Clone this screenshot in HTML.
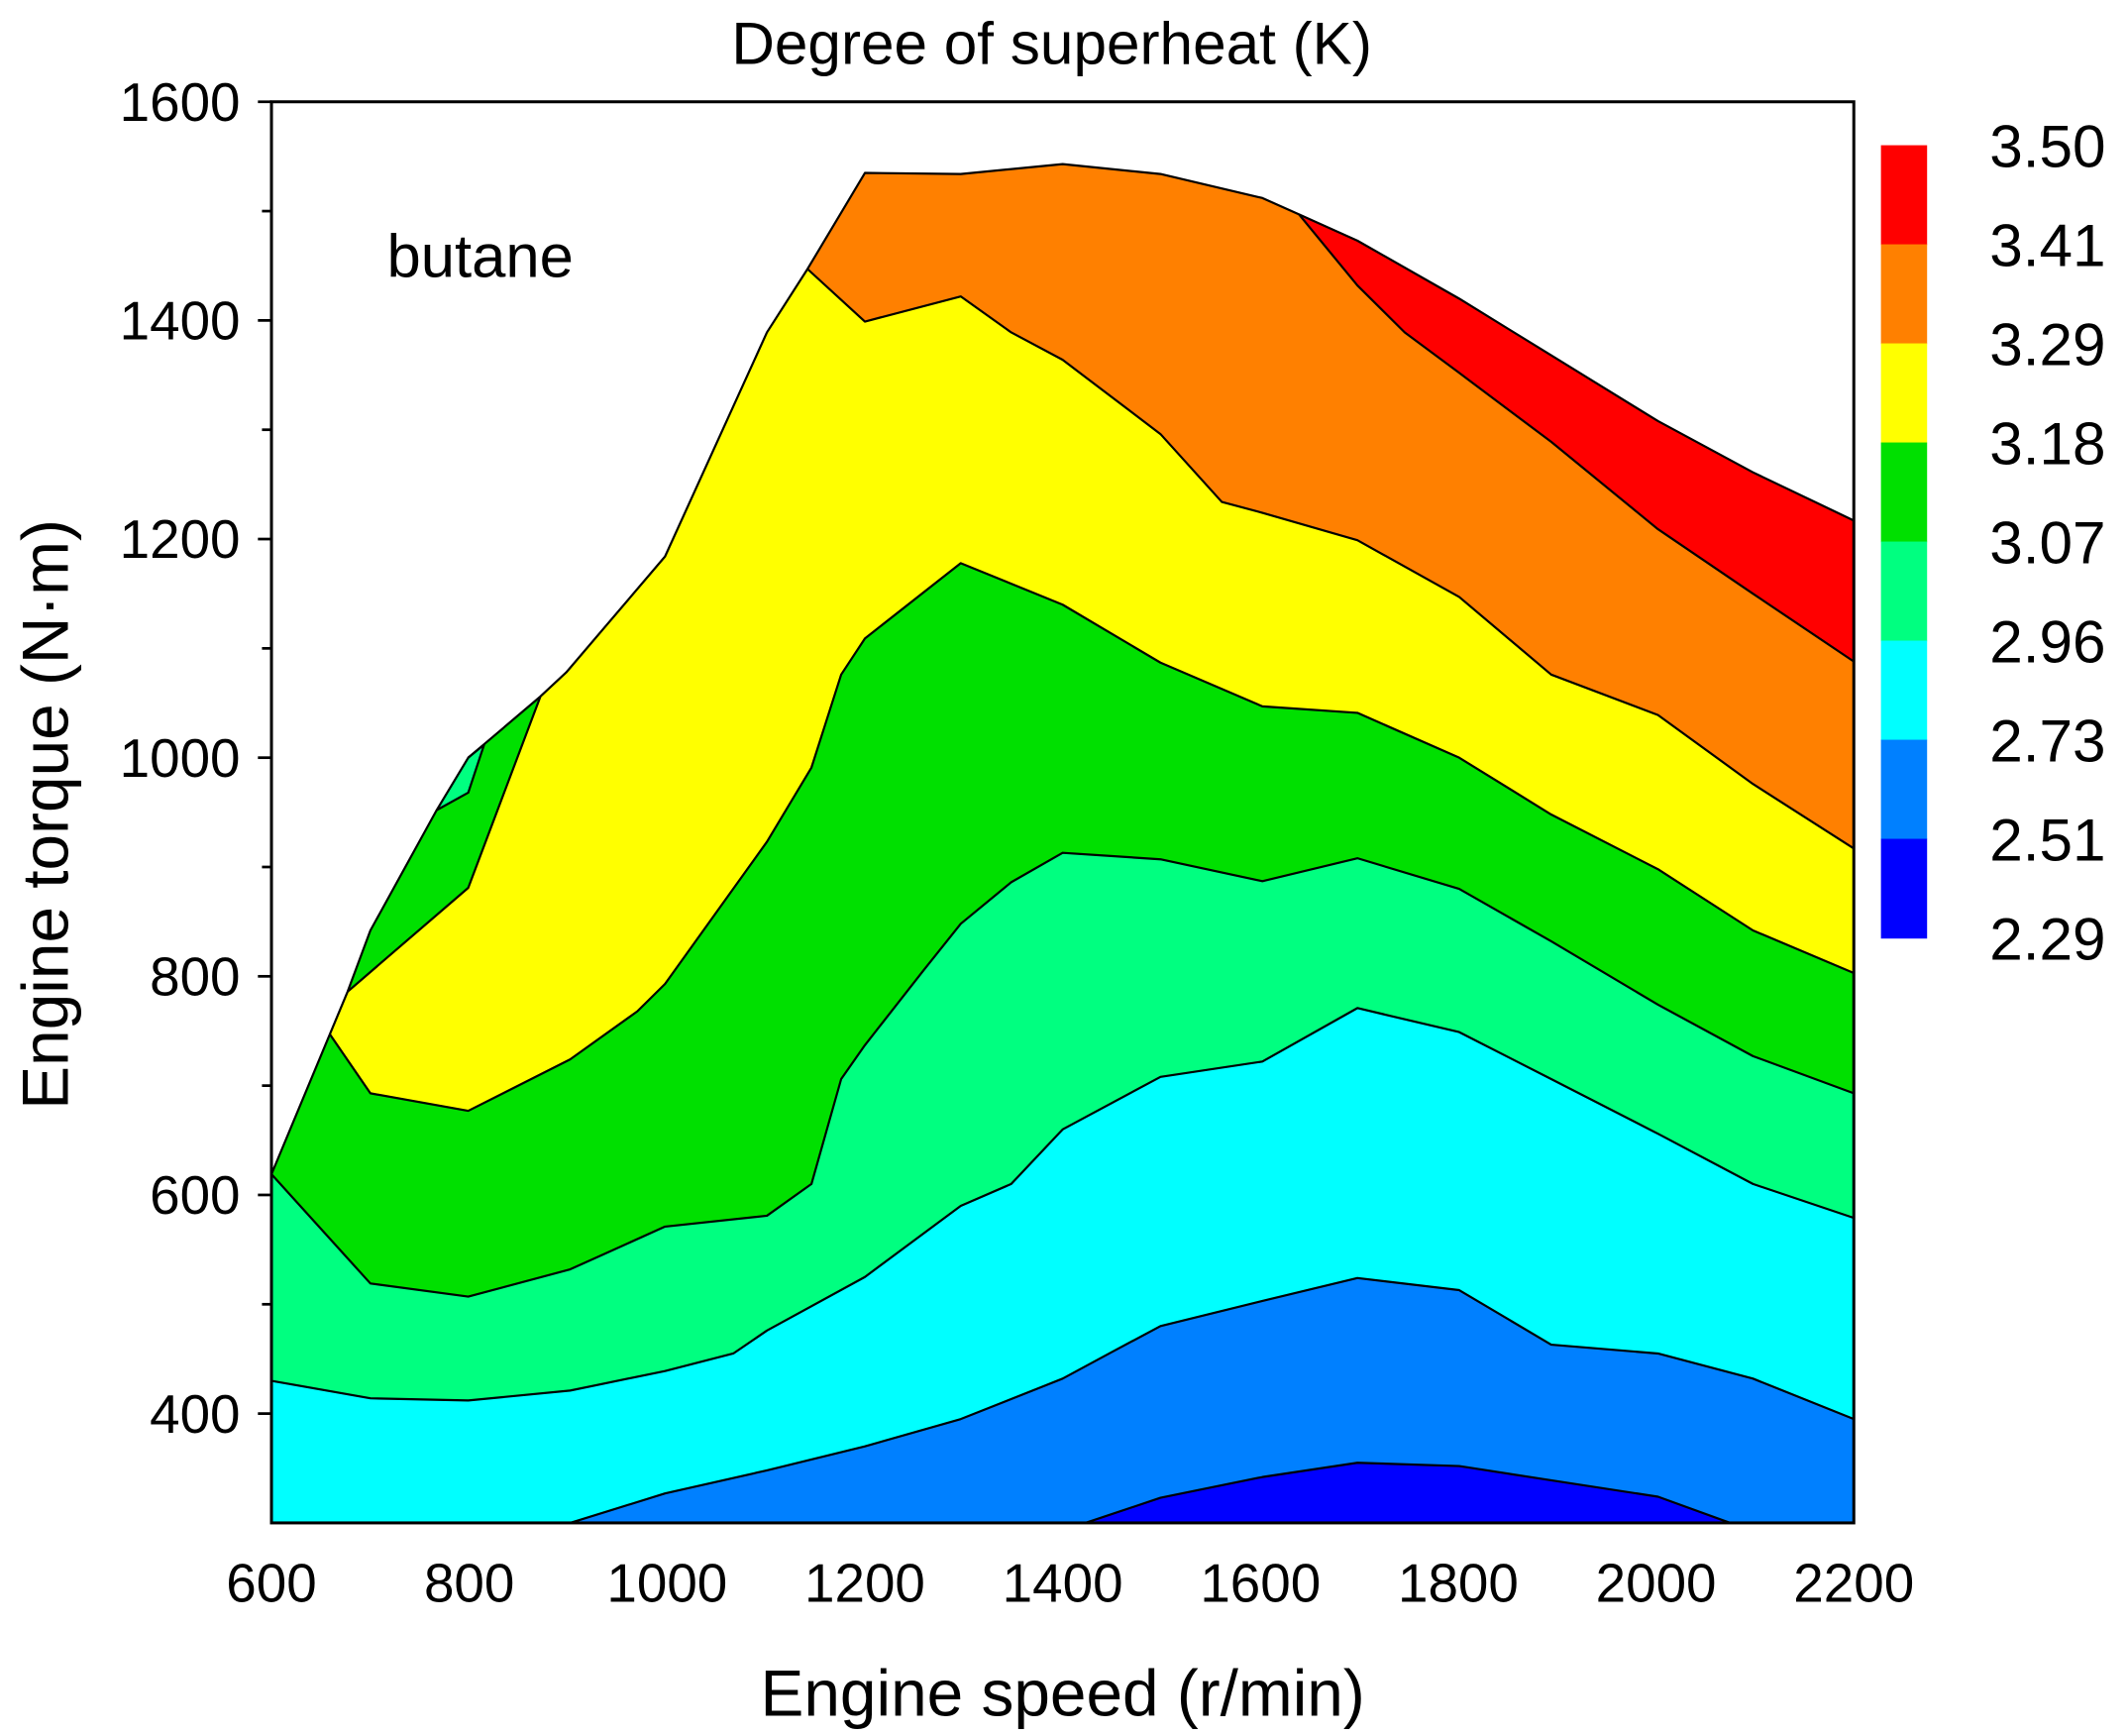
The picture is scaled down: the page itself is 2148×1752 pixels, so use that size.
<!DOCTYPE html>
<html><head><meta charset="utf-8"><style>
html,body{margin:0;padding:0;background:#fff;}
svg{display:block;font-family:"Liberation Sans",Arial,sans-serif;}
</style></head><body>
<svg id="chart" width="2148" height="1752" viewBox="0 0 1568 1279" xmlns="http://www.w3.org/2000/svg">
<rect x="0" y="0" width="1568" height="1279" fill="#fff"/>
<defs><clipPath id="env"><polygon id="envClip"/></clipPath></defs>
<g id="fills" clip-path="url(#env)"></g>
<g id="lines"></g>
<g id="axes"></g>
<text x="775" y="47" font-size="44" text-anchor="middle">Degree of superheat (K)</text>
<text x="783" y="1264" font-size="48" text-anchor="middle">Engine speed (r/min)</text>
<text transform="translate(50,600) rotate(-90)" font-size="48" text-anchor="middle">Engine torque (N·m)</text>
<text x="285" y="204" font-size="45">butane</text>
<g id="cbar"></g>
</svg>
<script>
const envRpm=[600,659,677,700,767,799,820,872,898,998,1101,1142,1200,1297,1400,1499,1602,1639,1698,1801,1894,2002,2098,2200,2200,600];
const envTq=[619,747,786,842,952,1000,1016,1056,1078,1184,1389,1447,1535,1534,1543,1534,1512,1497,1473,1420,1368,1308,1261,1217,300,300];
const c341Rpm=[1639,1698,1746,1801,1894,2002,2098,2200];
const c341Tq=[1497,1432,1389,1352,1289,1209,1150,1088];
const c329Rpm=[1142,1200,1297,1348,1400,1499,1561,1602,1698,1801,1894,2002,2098,2200];
const c329Tq=[1447,1399,1422,1389,1364,1296,1234,1224,1199,1147,1076,1039,976,917];
const c318Rpm=[659,700,799,902,970,998,1101,1146,1176,1200,1297,1400,1499,1602,1698,1801,1894,2002,2098,2200];
const c318Tq=[747,693,677,724,768,793,923,991,1076,1109,1178,1140,1087,1047,1041,1000,948,898,842,803];
const c307Rpm=[600,700,799,902,998,1101,1146,1176,1200,1259,1297,1348,1400,1499,1602,1698,1801,1894,2002,2098,2200];
const c307Tq=[619,519,507,532,571,581,610,706,737,805,848,886,913,907,887,908,880,832,774,727,693];
const c296Rpm=[600,700,799,902,998,1067,1101,1200,1297,1348,1400,1499,1602,1698,1801,1894,2002,2098,2200];
const c296Tq=[430,414,412,421,439,455,476,525,590,610,660,708,722,771,749,706,656,610,579];
const c273Rpm=[902,998,1101,1200,1297,1400,1451,1499,1602,1698,1801,1894,2002,2098,2200];
const c273Tq=[300,327,348,370,395,432,457,480,503,524,513,463,455,432,395];
const c251Rpm=[1423,1499,1602,1698,1801,1894,2002,2075];
const c251Tq=[300,323,342,355,352,339,324,300];
const patchGreenRpm=[677,700,767,799,820,872,799];
const patchGreenTq=[786,842,952,1000,1016,1056,881];
const patchSpringRpm=[767,799,815,799];
const patchSpringTq=[952,1000,1012,968];
const levels=["3.50","3.41","3.29","3.18","3.07","2.96","2.73","2.51","2.29"];
const colors=["#ff0000","#ff8000","#ffff00","#00e000","#00ff80","#00ffff","#0080ff","#0000ff"];
const xTicks=[600,800,1000,1200,1400,1600,1800,2000,2200];
const yTicks=[400,600,800,1000,1200,1400,1600];

const X0=200,X1=1366,Y0=1122,Y1=75;
const xs=v=>X0+(v-600)/1600*(X1-X0);
const ys=v=>Y0-(v-300)/1300*(Y0-Y1);
const NS="http://www.w3.org/2000/svg";
const pts=(r,t)=>r.map((v,i)=>xs(v).toFixed(1)+","+ys(t[i]).toFixed(1)).join(" ");
document.getElementById('envClip').setAttribute('points',pts(envRpm,envTq));
const fills=document.getElementById('fills'),lines=document.getElementById('lines');
function poly(parent,p,fill,stroke,name){
 const e=document.createElementNS(NS,fill==='none'?'polyline':'polygon');
 e.setAttribute('points',p);e.setAttribute('fill',fill);
 if(stroke){e.setAttribute('stroke',stroke);e.setAttribute('stroke-width','1.6');e.setAttribute('stroke-linejoin','round');}
 
 
 parent.appendChild(e);return e;
}
poly(fills,pts(envRpm,envTq),colors[0],null,'region-3.41-3.50');
const conts=[[c341Rpm,c341Tq],[c329Rpm,c329Tq],[c318Rpm,c318Tq],[c307Rpm,c307Tq],[c296Rpm,c296Tq],[c273Rpm,c273Tq],[c251Rpm,c251Tq]];
conts.forEach((c,k)=>{
 let r=c[0].slice(),t=c[1].slice();
 if(t[0]>300){r=[600,r[0]].concat(r);t=[1700,1700].concat(t);}
 r.push(2200,2200,600);t.push(Math.min(t[t.length-1],300),300,300);
 poly(fills,pts(r,t),colors[k+1],null,'region-'+levels[k+2]+'-'+levels[k+1]);
});
poly(fills,pts(patchGreenRpm,patchGreenTq),colors[3],null,'region-green-patch');
poly(fills,pts(patchSpringRpm,patchSpringTq),colors[4],null,'region-spring-patch');
conts.forEach((c,k)=>{poly(lines,pts(c[0],c[1]),'none','#000','contour-line-'+levels[k+1]);});
poly(lines,pts(patchGreenRpm.slice(5).concat([677]),patchGreenTq.slice(5).concat([786])),'none','#000','contour-line-patch');
poly(lines,pts(patchSpringRpm.slice(1),patchSpringTq.slice(1)).concat(" "+xs(767)+","+ys(952)),'none','#000','contour-line-spring-patch');
poly(lines,pts(envRpm.slice(0,24),envTq.slice(0,24)),'none','#000','envelope-outline');

const ax=document.getElementById('axes');
const fr=document.createElementNS(NS,'rect');
fr.setAttribute('x',X0);fr.setAttribute('y',Y1);fr.setAttribute('width',X1-X0);fr.setAttribute('height',Y0-Y1);
fr.setAttribute('fill','none');fr.setAttribute('stroke','#000');fr.setAttribute('stroke-width','2.2');


ax.appendChild(fr);
function line(x1,y1,x2,y2,name){const l=document.createElementNS(NS,'line');
 l.setAttribute('x1',x1);l.setAttribute('y1',y1);l.setAttribute('x2',x2);l.setAttribute('y2',y2);
 l.setAttribute('stroke','#000');l.setAttribute('stroke-width','2');
 
 
 ax.appendChild(l);}
function text(x,y,s,anchor,size,parent,name){const t=document.createElementNS(NS,'text');
 t.setAttribute('x',x);t.setAttribute('y',y);t.setAttribute('text-anchor',anchor);t.setAttribute('font-size',size);t.textContent=s;
 
 
 parent.appendChild(t);}
for(let v=400;v<=1600;v+=100){line(X0-(v%200===0?10:7),ys(v),X0,ys(v),'y-tick');}
yTicks.forEach(v=>text(177,ys(v)+14,v,'end',40,ax,'y-tick-label'));
xTicks.forEach(v=>text(xs(v),1180,v,'middle',40,ax,'x-tick-label'));
const cb=document.getElementById('cbar');
const cbTop=107,cbH=73;
colors.forEach((c,i)=>{const r=document.createElementNS(NS,'rect');
 r.setAttribute('x',1386);r.setAttribute('y',cbTop+i*cbH);r.setAttribute('width',34);r.setAttribute('height',cbH+0.5);r.setAttribute('fill',c);
 
 
 cb.appendChild(r);});
levels.forEach((s,i)=>text(1466,cbTop+i*cbH+16,s,'start',44,cb,'colorbar-label'));
</script>
</body></html>
